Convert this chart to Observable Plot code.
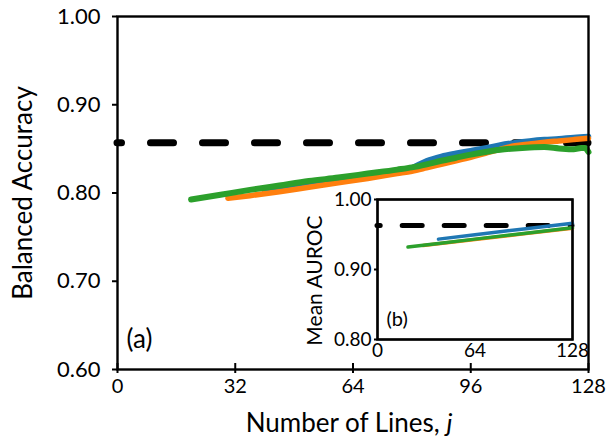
<!DOCTYPE html>
<html>
<head>
<meta charset="utf-8">
<script src="https://cdn.jsdelivr.net/npm/d3@7"></script>
<script src="https://cdn.jsdelivr.net/npm/@observablehq/plot@0.6"></script>
<style>
  html, body { margin: 0; padding: 0; background: white; }
  #wrap { position: relative; width: 606px; height: 445px; overflow: hidden; }
  #inset { position: absolute; left: 290px; top: 185px; }
  svg { overflow: visible; }
</style>
</head>
<body>
<div id="wrap"><div id="main"></div><div id="inset"></div></div>
<script>
// ---- Main panel (a): Balanced Accuracy vs number of lines j ----
const xTicks = [0, 32, 64, 96, 128];
const yTicks = [0.6, 0.7, 0.8, 0.9, 1.0];
const baselineBA = 0.857;

const blueJ  = [40, 48, 56, 64, 72, 80, 84, 88, 92, 96, 100, 104, 108, 112, 116, 120, 124, 128];
const blueBA = [0.8025, 0.807, 0.8115, 0.8165, 0.822, 0.8285, 0.8365, 0.8415, 0.845, 0.848, 0.851, 0.8545, 0.857, 0.859, 0.8605, 0.8615, 0.863, 0.864];

const orangeJ  = [30, 36, 44, 52, 60, 68, 76, 80, 84, 88, 92, 96, 100, 104, 108, 112, 116, 120, 124, 128];
const orangeBA = [0.794, 0.797, 0.8015, 0.8065, 0.8115, 0.8165, 0.822, 0.8247, 0.8285, 0.8325, 0.8365, 0.8405, 0.845, 0.8495, 0.8535, 0.8555, 0.8575, 0.859, 0.8605, 0.862];

const greenJ  = [20, 28, 36, 44, 52, 60, 68, 76, 80, 84, 88, 92, 96, 100, 104, 108, 112, 116, 120, 124, 126, 127, 128];
const greenBA = [0.7926, 0.798, 0.8035, 0.8085, 0.8135, 0.8175, 0.822, 0.8265, 0.829, 0.8325, 0.8365, 0.84, 0.8435, 0.8465, 0.849, 0.8505, 0.8515, 0.852, 0.8505, 0.8495, 0.851, 0.851, 0.8465];

// ---- Inset panel (b): Mean AUROC ----
const insetXTicks = [0, 64, 128];
const insetYTicks = [0.8, 0.9, 1.0];
const baselineAUROC = 0.963;

const blueJb  = [40, 64, 96, 128];
const blueAUC = [0.9434, 0.9497, 0.958, 0.966];
const orangeJb  = [30, 64, 96, 128];
const orangeAUC = [0.9342, 0.9428, 0.951, 0.959];
const greenJb  = [20, 40, 64, 96, 128];
const greenAUC = [0.932, 0.9372, 0.9434, 0.9515, 0.9596];

const colors = {blue: "#1f77b4", orange: "#ff7f0e", green: "#2ca02c"};
const FONT = "Lato, 'Open Sans', sans-serif";

const rows = (js, vs) => js.map((j, i) => ({j, v: vs[i]}));

const main = Plot.plot({
  width: 606,
  height: 445,
  marginLeft: 117,
  marginRight: 18,
  marginTop: 16,
  marginBottom: 76,
  style: {fontFamily: FONT, background: "white", color: "black", overflow: "visible"},
  x: {domain: [0, 128]},
  y: {domain: [0.6, 1.0]},
  marks: [
    Plot.ruleY([baselineBA], {stroke: "black", strokeWidth: 7, strokeDasharray: "23,29", strokeDashoffset: 18.5, strokeLinecap: "round"}),
    Plot.line(rows(blueJ, blueBA), {x: "j", y: "v", stroke: colors.blue, strokeWidth: 5.5, strokeLinecap: "round", curve: "monotone-x"}),
    Plot.line(rows(orangeJ, orangeBA), {x: "j", y: "v", stroke: colors.orange, strokeWidth: 5.5, strokeLinecap: "round", curve: "monotone-x"}),
    Plot.line(rows(greenJ, greenBA), {x: "j", y: "v", stroke: colors.green, strokeWidth: 6, strokeLinecap: "round", curve: "monotone-x"}),
    Plot.frame({stroke: "black", strokeWidth: 2.4}),
    Plot.axisY({ticks: yTicks, tickFormat: d3.format(".2f"), tickSize: 5, tickPadding: 12, fontSize: 22, strokeWidth: 2, label: null}),
    Plot.axisX({ticks: xTicks, tickSize: 4, tickPadding: 5, fontSize: 20, strokeWidth: 2, label: null}),
    Plot.axisX({ticks: xTicks, tickSize: -6, tickFormat: () => "", strokeWidth: 2, label: null}),
    Plot.text(["Balanced Accuracy"], {frameAnchor: "left", dx: -94, rotate: -90, fontSize: 26, textAnchor: "middle"}),
    Plot.text(["Number of Lines, "], {frameAnchor: "bottom", dy: 62, dx: -4, fontSize: 26, textAnchor: "middle"}),
    Plot.text(["(a)"], {frameAnchor: "bottom-left", dx: 9, dy: -22, fontSize: 26, textAnchor: "start"})
  ]
});
document.getElementById("main").appendChild(main);

// italic j appended to x title
{
  const svg = d3.select(main);
  const t = svg.selectAll("text").filter(function() { return this.textContent === "Number of Lines, "; });
  if (!t.empty()) {
    t.append("tspan").attr("font-style", "italic").text("j");
  }
}

const inset = Plot.plot({
  width: 300,
  height: 185,
  marginLeft: 87,
  marginRight: 18,
  marginTop: 14,
  marginBottom: 31,
  style: {fontFamily: FONT, background: "transparent", color: "black", overflow: "visible"},
  x: {domain: [0, 128]},
  y: {domain: [0.8, 1.0]},
  marks: [
    Plot.frame({stroke: "black", fill: "white", strokeWidth: 2.2}),
    Plot.ruleY([baselineAUROC], {stroke: "black", strokeWidth: 5, strokeDasharray: "20,22", strokeDashoffset: 16.8, strokeLinecap: "round"}),
    Plot.line(rows(blueJb, blueAUC), {x: "j", y: "v", stroke: colors.blue, strokeWidth: 3.5}),
    Plot.line(rows(orangeJb, orangeAUC), {x: "j", y: "v", stroke: colors.orange, strokeWidth: 3.5}),
    Plot.line(rows(greenJb, greenAUC), {x: "j", y: "v", stroke: colors.green, strokeWidth: 3.5}),
    Plot.frame({stroke: "black", strokeWidth: 2.2}),
    Plot.axisY({ticks: insetYTicks, tickFormat: d3.format(".2f"), tickSize: 3, tickPadding: 3, fontSize: 19, strokeWidth: 2, label: null}),
    Plot.axisX({ticks: insetXTicks, tickSize: 0, tickPadding: 4, fontSize: 19, label: null}),
    Plot.text(["Mean AUROC"], {frameAnchor: "left", dx: -62, dy: 11, rotate: -90, fontSize: 21, textAnchor: "middle"}),
    Plot.text(["(b)"], {frameAnchor: "bottom-left", dx: 9, dy: -14, fontSize: 20, textAnchor: "start"})
  ]
});
document.getElementById("inset").appendChild(inset);
</script>
</body>
</html>
